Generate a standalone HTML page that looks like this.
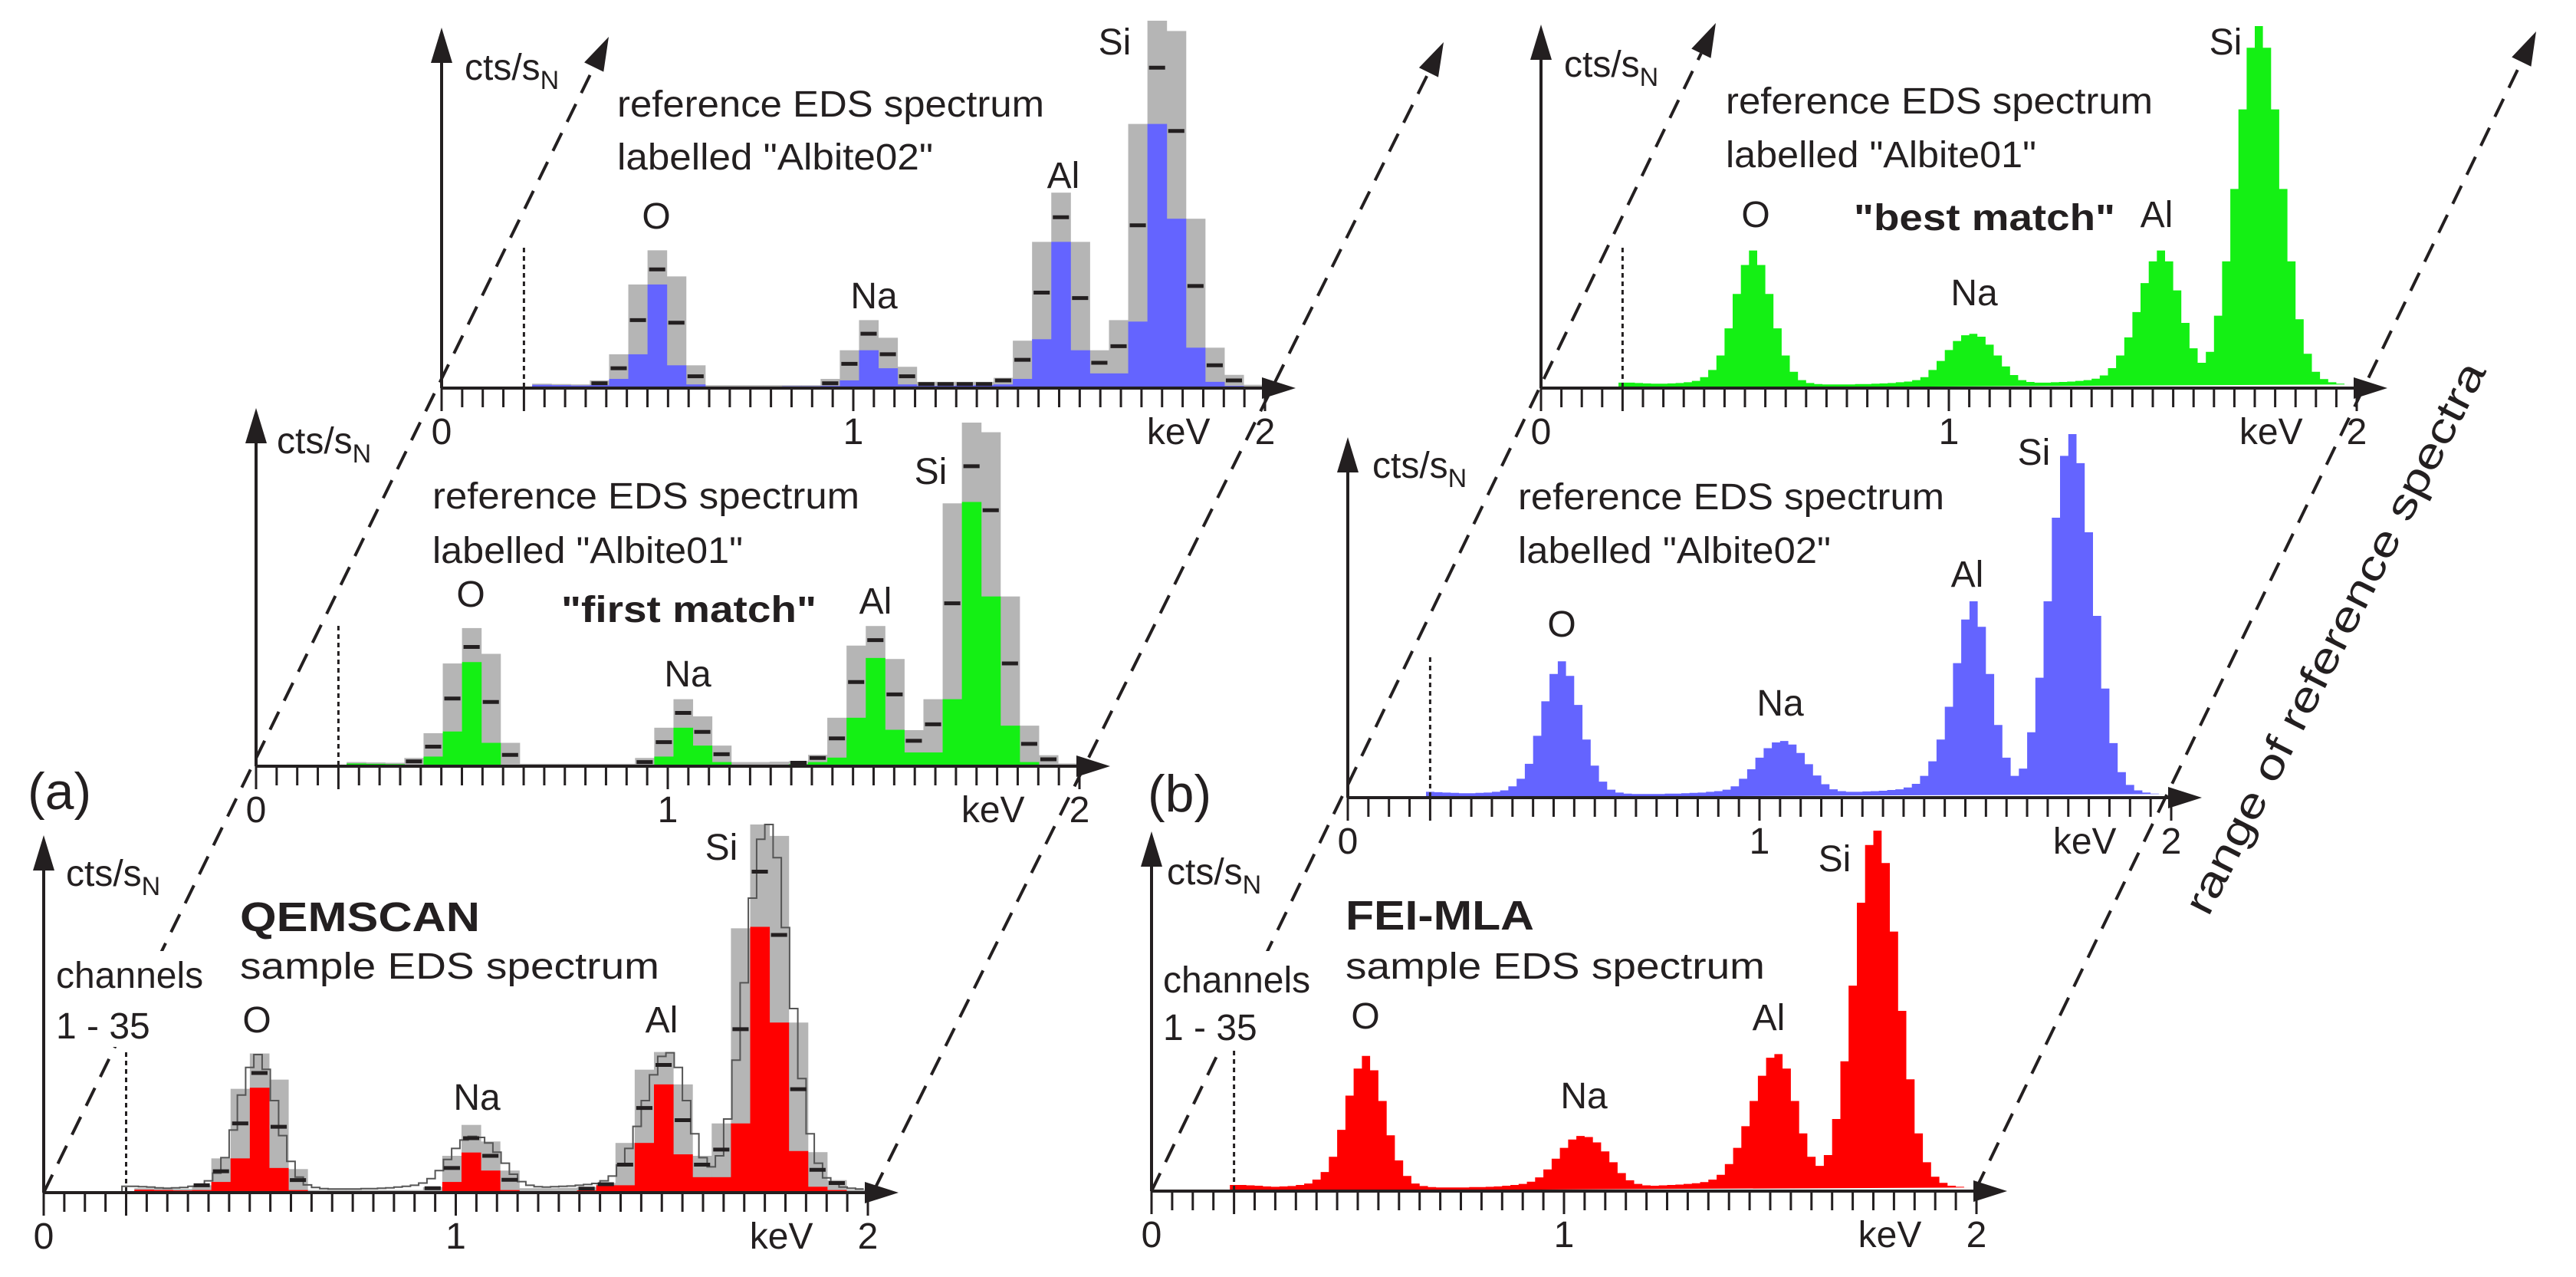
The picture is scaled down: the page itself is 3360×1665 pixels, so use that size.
<!DOCTYPE html>
<html><head><meta charset="utf-8">
<style>
html,body{margin:0;padding:0;background:#fff;}
svg{display:block;}
text{font-family:"Liberation Sans",Arial,sans-serif;fill:#231f20;}
</style></head>
<body>
<svg id="fig" width="3360" height="1665" viewBox="0 0 3360 1665" xmlns="http://www.w3.org/2000/svg">
<rect x="0" y="0" width="3360" height="1665" fill="#fff"/>
<g id="dashes"></g>
<g id="plots"></g>
<g id="labels" font-size="48">
  <text x="36" y="1055" font-size="68">(a)</text>
  <text x="1497" y="1058" font-size="68">(b)</text>

  <text x="606" y="104">cts/s<tspan font-size="34" dy="12">N</tspan></text>
  <text x="805" y="152" textLength="557" lengthAdjust="spacingAndGlyphs">reference EDS spectrum</text>
  <text x="805" y="221" textLength="412" lengthAdjust="spacingAndGlyphs">labelled "Albite02"</text>
  <text x="856" y="298" text-anchor="middle">O</text>
  <text x="1140" y="402" text-anchor="middle">Na</text>
  <text x="1387" y="245" text-anchor="middle">Al</text>
  <text x="1454" y="71" text-anchor="middle">Si</text>

  <text x="361" y="591">cts/s<tspan font-size="34" dy="12">N</tspan></text>
  <text x="564" y="663" textLength="557" lengthAdjust="spacingAndGlyphs">reference EDS spectrum</text>
  <text x="564" y="734" textLength="405" lengthAdjust="spacingAndGlyphs">labelled "Albite01"</text>
  <text x="614" y="791" text-anchor="middle">O</text>
  <text x="732" y="811" font-weight="bold" textLength="333" lengthAdjust="spacingAndGlyphs">"first match"</text>
  <text x="897" y="895" text-anchor="middle">Na</text>
  <text x="1142" y="800" text-anchor="middle">Al</text>
  <text x="1214" y="631" text-anchor="middle">Si</text>

  <rect x="70" y="1240" width="200" height="125" fill="#fff"/>
  <text x="86" y="1155">cts/s<tspan font-size="34" dy="12">N</tspan></text>
  <text x="313" y="1214" font-size="54" font-weight="bold" textLength="313" lengthAdjust="spacingAndGlyphs">QEMSCAN</text>
  <text x="313" y="1276" textLength="547" lengthAdjust="spacingAndGlyphs">sample EDS spectrum</text>
  <text x="73" y="1288">channels</text>
  <text x="73" y="1354">1 - 35</text>
  <text x="335" y="1346" text-anchor="middle">O</text>
  <text x="622" y="1447" text-anchor="middle">Na</text>
  <text x="863" y="1346" text-anchor="middle">Al</text>
  <text x="941" y="1121" text-anchor="middle">Si</text>

  <text x="2040" y="100">cts/s<tspan font-size="34" dy="12">N</tspan></text>
  <text x="2251" y="148" textLength="557" lengthAdjust="spacingAndGlyphs">reference EDS spectrum</text>
  <text x="2251" y="218" textLength="405" lengthAdjust="spacingAndGlyphs">labelled "Albite01"</text>
  <text x="2290" y="296" text-anchor="middle">O</text>
  <text x="2418" y="300" font-weight="bold" textLength="341" lengthAdjust="spacingAndGlyphs">"best match"</text>
  <text x="2575" y="398" text-anchor="middle">Na</text>
  <text x="2813" y="296" text-anchor="middle">Al</text>
  <text x="2903" y="71" text-anchor="middle">Si</text>

  <text x="1790" y="623">cts/s<tspan font-size="34" dy="12">N</tspan></text>
  <text x="1980" y="664" textLength="556" lengthAdjust="spacingAndGlyphs">reference EDS spectrum</text>
  <text x="1980" y="734" textLength="408" lengthAdjust="spacingAndGlyphs">labelled "Albite02"</text>
  <text x="2037" y="830" text-anchor="middle">O</text>
  <text x="2322" y="933" text-anchor="middle">Na</text>
  <text x="2566" y="765" text-anchor="middle">Al</text>
  <text x="2653" y="606" text-anchor="middle">Si</text>

  <rect x="1514" y="1240" width="200" height="125" fill="#fff"/>
  <text x="1522" y="1153">cts/s<tspan font-size="34" dy="12">N</tspan></text>
  <text x="1755" y="1212" font-size="54" font-weight="bold" textLength="246" lengthAdjust="spacingAndGlyphs">FEI-MLA</text>
  <text x="1755" y="1276" textLength="547" lengthAdjust="spacingAndGlyphs">sample EDS spectrum</text>
  <text x="1517" y="1294">channels</text>
  <text x="1517" y="1356">1 - 35</text>
  <text x="1781" y="1341" text-anchor="middle">O</text>
  <text x="2066" y="1445" text-anchor="middle">Na</text>
  <text x="2307" y="1343" text-anchor="middle">Al</text>
  <text x="2393" y="1136" text-anchor="middle">Si</text>

  <text x="0" y="0" font-size="54" text-anchor="middle" textLength="800" lengthAdjust="spacingAndGlyphs" transform="translate(3062,840) rotate(-63)">range of reference spectra</text>
</g>
</svg>
<script>
// ---- data ----
const fineStart = 0.20;
const fineStep = 0.02;
const coarseStart = 0.22;
const coarseStep = 0.0467;
const tickLabels = ["0", "1", "2"];
const tickValues = [0, 1, 2];

// fine spectra (cts/s normalised, Si = 100), energies 0.20..1.98 keV
const albite01Fine = [1.5,1.5,1.4,1.3,1.2,1.2,1.3,1.4,1.6,2.0, 3.0,5,9,16.5,26,34,38,34,26,16.5, 9,4.5,2.2,1.4,1.1,1.0,1.0,1.0,1.0,1.1, 1.1,1.2,1.3,1.4,1.6,1.8,2.2,3.0,5,7.5, 10.5,13,14.6,15,14.2,12,9,6,3.6,2.2, 1.7,1.5,1.5,1.6,1.7,1.8,2.0,2.2,2.6,3.5, 5.5,9,14,21,29,35,38,35,27,18, 11,7,10,20,35,55,77,94,100,94, 77,55,35,19,9.5,4.5,2.5,1.6,1.2,1.0];
const albite02Fine = [1.6,1.5,1.4,1.3,1.2,1.2,1.3,1.4,1.6,2.0, 3.1,5.2,9.3,17,26.5,34,37.5,33.5,25.5,16, 8.8,4.4,2.2,1.4,1.1,1.0,1.0,1.0,1.0,1.1, 1.1,1.2,1.3,1.4,1.6,1.8,2.2,3.1,5.2,7.8, 11,13.6,15.2,15.6,14.6,12.3,9.2,6.1,3.7,2.3, 1.8,1.6,1.6,1.7,1.8,1.9,2.1,2.3,2.8,3.8, 6,10,16,25,37,49,54,47,34,20, 11,6,8,18,33,54,77,94,100,92, 73,50,30,15,7,3.5,2,1.4,1.1,1.0];
const sampleFine = [1.7,1.7,1.6,1.5,1.3,1.2,1.3,1.4,1.7,2.1, 3.2,5.3,9.5,17,26.5,34,37.5,33.5,25,15.5, 8.5,4.2,2.1,1.4,1.1,1.0,1.0,1.0,1.0,1.1, 1.1,1.2,1.3,1.5,1.7,2.0,2.6,3.8,6,9, 12,14.3,15.3,15,13.5,11,8,5,3,2, 1.6,1.5,1.6,1.7,1.8,2.0,2.2,2.5,3.2,4.5, 7.5,12,18,25,32,37,38,34,25,16, 9.5,7,10,20,36,57,80,96,100,91, 72,50,31,16,8,4,2.3,1.5,1.2,1.0];

// coarse (QEMSCAN) spectra: lower bound, mean marker, upper bound per channel
const albite02Lower = [0.9,0.8,0.7,0.8,2.5,9.2,28.2,6.2,1.0,0.4,0.4,0.4,0.4,0.5,0.5,0.6,2.1,10.3,5.4,1.0,0.6,0.6,0.7,0.8,1.0,2.5,13.3,39.8,10.3,4.0,4.0,18.1,71.9,46.1,11.0,1.7,0.6,0.3];
const albite02Mean  = [1.0,0.9,0.8,1.3,5.4,18.5,32.3,17.8,3.2,0.6,0.6,0.6,0.6,0.6,0.6,1.3,6.6,14.8,9.2,3.2,1.1,1.1,1.1,1.1,2.1,7.7,26,46.5,24.5,6.9,11.4,44.3,87.2,70,27.8,6.2,2.1,0.6];
const albite02Upper = [1.2,1.1,1.0,2.1,9.2,28.2,37.5,30.4,6.2,0.8,0.8,0.8,0.8,0.8,0.8,2.5,10.3,18.5,13.7,5.8,1.7,1.7,1.7,1.7,2.8,12.9,39.8,53.2,39.8,10.3,18.5,71.9,100,97.2,46.1,11.0,3.6,0.9];
const albite01Lower = [0.8,0.7,0.6,0.3,2.8,10.1,30.3,6.8,0.4,0.3,0.3,0.3,0.3,0.3,0.3,0,2.8,11.2,6.0,1.2,0.3,0.3,0.4,0.6,1.2,2.5,14.1,31.5,10.6,4.0,4.0,19.5,76.9,49.4,11.8,1.2,0.2,0.2];
const albite01Mean  = [1.0,0.9,0.8,1.4,5.7,19.7,34.7,18.7,3.3,0.5,0.5,0.5,0.5,0.5,0.5,1.2,7.0,15.5,10.0,3.5,0.8,0.8,0.9,1.0,2.4,8.1,24.5,36.7,20.9,7.4,12.2,47.4,87.3,74.5,29.9,6.5,2.0,0.5];
const albite01Upper = [1.2,1.1,1.0,2.4,9.6,29.9,40.2,32.7,6.8,0.7,0.7,0.7,0.7,0.7,0.7,2.4,11.2,19.5,14.5,6.0,1.2,1.2,1.3,1.5,3.3,14.1,35.1,40.8,31.2,10.5,19.5,76.5,100,97.2,49.4,11.8,3.2,0.8];
const sampleLower = [0.8,0.7,0.6,0.7,2.9,9.3,28.5,6.7,0.7,0.3,0.3,0.3,0.3,0.3,0.3,0.3,2.9,10.9,6.0,0.7,0.3,0.3,0.4,0.6,2.0,2.0,13.5,29.4,10.4,4.2,4.2,18.8,72.2,46.2,11.3,1.6,0.7,0.3];
const sampleMean  = [1.0,0.9,0.8,2.0,5.8,18.8,32.5,17.9,3.4,0.5,0.5,0.5,0.5,0.5,0.5,1.2,6.7,14.8,10.0,3.5,0.8,0.8,0.9,1.1,2.3,7.6,23,34.7,19.7,7.6,11.7,44.4,87.2,70,28.1,6.2,2.6,0.5];
const sampleUpper = [1.2,1.1,1.0,2.0,9.3,28.2,37.8,30.7,6.4,0.7,0.7,0.7,0.7,0.7,0.7,1.5,10.0,18.4,13.9,6.0,1.2,1.2,1.3,1.5,2.6,13.5,33.4,38.2,29.4,10.0,18.8,71.8,100,96.9,46.2,11.0,3.4,0.8];

// ---- rendering ----
const NS = "http://www.w3.org/2000/svg";
const INK = "#231f20";
const plots = document.getElementById("plots");
const dashes = document.getElementById("dashes");

function mk(parent, tag, attrs) {
  const el = document.createElementNS(NS, tag);
  for (const k in attrs) el.setAttribute(k, attrs[k]);
  parent.appendChild(el);
  return el;
}

const panels = [
  {id:"a-top", ox:576, oy:506, kx:537, ys:4.79, top:36, color:"#6464ff", coarse:[albite02Lower, albite02Mean, albite02Upper]},
  {id:"a-mid", ox:334, oy:999, kx:537, ys:4.48, top:532, color:"#14f014", coarse:[albite01Lower, albite01Mean, albite01Upper]},
  {id:"a-bot", ox:57, oy:1555, kx:537.5, ys:4.80, top:1089, color:"#ff0000", coarse:[sampleLower, sampleMean, sampleUpper], line:sampleFine},
  {id:"b-top", ox:2010, oy:506, kx:532, ys:4.72, top:32, color:"#14f014", fine:albite01Fine},
  {id:"b-mid", ox:1758, oy:1040, kx:537, ys:4.74, top:570, color:"#6464ff", fine:albite02Fine},
  {id:"b-bot", ox:1502, oy:1553, kx:538, ys:4.70, top:1084, color:"#ff0000", fine:sampleFine}
];

function stepPath(p, vals) {
  const X = e => p.ox + e * p.kx;
  const Y = v => p.oy - v * p.ys;
  let d = "M" + X(fineStart - fineStep/2) + "," + p.oy;
  vals.forEach((v, i) => {
    const x0 = X(fineStart + fineStep*i - fineStep/2);
    const x1 = X(fineStart + fineStep*i + fineStep/2);
    d += " L" + x0.toFixed(1) + "," + Y(v).toFixed(1) + " L" + x1.toFixed(1) + "," + Y(v).toFixed(1);
  });
  return d;
}

panels.forEach(p => {
  const X = e => p.ox + e * p.kx;
  const Y = v => p.oy - v * p.ys;
  const g = mk(plots, "g", {});
  
  

  if (p.coarse) {
    const [lo, mean, up] = p.coarse;
    up.forEach((v, k) => {
      const x0 = X(coarseStart + coarseStep*k);
      const r = mk(g, "rect", {x:x0, y:Y(v), width:coarseStep*p.kx + 0.5, height:v*p.ys, fill:"#b5b5b5"});
      
      
    });
    lo.forEach((v, k) => {
      const x0 = X(coarseStart + coarseStep*k);
      const r = mk(g, "rect", {x:x0, y:Y(v), width:coarseStep*p.kx + 0.5, height:v*p.ys, fill:p.color});
      
      
    });
    if (p.line) {
      const ln = mk(g, "path", {d:stepPath(p, p.line), fill:"none", stroke:"#555", "stroke-width":2});
      
      
    }
    mean.forEach((v, k) => {
      if (up[k] < 1.5) return;
      const x0 = X(coarseStart + coarseStep*k);
      const m = mk(g, "line", {x1:x0 + 2, x2:x0 + coarseStep*p.kx - 2, y1:Y(v), y2:Y(v), stroke:INK, "stroke-width":5});
      
      
    });
  } else {
    const path = mk(g, "path", {d:stepPath(p, p.fine) + " Z", fill:p.color, stroke:"none"});
    
    
  }

  const dot = mk(g, "line", {x1:X(0.2), x2:X(0.2), y1:p.oy - 183, y2:p.oy, stroke:INK, "stroke-width":3, "stroke-dasharray":"6 5"});
  
  

  const tip = X(2) + 40;
  const xa = mk(g, "line", {x1:p.ox, x2:tip - 30, y1:p.oy, y2:p.oy, stroke:INK, "stroke-width":4});
  
  
  const xh = mk(g, "polygon", {points:`${tip},${p.oy} ${tip-44},${p.oy-14} ${tip-44},${p.oy+14}`, fill:INK});
  
  
  for (let i = 0; i <= 40; i++) {
    const e = i * 0.05;
    const long = (i % 20 === 0) || i === 4;
    const t = mk(g, "line", {x1:X(e), x2:X(e), y1:p.oy, y2:p.oy + (long ? 30 : 25), stroke:INK, "stroke-width":3});
    
    
  }
  tickValues.forEach((v, i) => {
    const tl = mk(g, "text", {x:X(v), y:p.oy + 73, "text-anchor":"middle", "font-size":48});
    tl.textContent = tickLabels[i];
    
    
  });
  const kev = mk(g, "text", {x:X(1.79), y:p.oy + 73, "text-anchor":"middle", "font-size":48});
  kev.textContent = "keV";
  
  

  const ya = mk(g, "line", {x1:p.ox, x2:p.ox, y1:p.oy, y2:p.top + 30, stroke:INK, "stroke-width":4});
  
  
  const yh = mk(g, "polygon", {points:`${p.ox},${p.top} ${p.ox-14},${p.top+46} ${p.ox+14},${p.top+46}`, fill:INK});
  
  
});

const dlines = [
  {name:"a-left-dashed", x1:57, y1:1555, x2:794, y2:48},
  {name:"a-right-dashed", x1:1140, y1:1552, x2:1883, y2:55},
  {name:"b-left-dashed", x1:1502, y1:1553, x2:2238, y2:30},
  {name:"b-right-dashed", x1:2577, y1:1551, x2:3308, y2:41}
];
dlines.forEach(L => {
  const dx = L.x2 - L.x1, dy = L.y2 - L.y1, len = Math.hypot(dx, dy);
  const ux = dx/len, uy = dy/len;
  const bx = L.x2 - ux*44, by = L.y2 - uy*44;
  const ln = mk(dashes, "line", {x1:L.x1, y1:L.y1, x2:bx, y2:by, stroke:INK, "stroke-width":4, "stroke-dasharray":"26 16"});
  
  
  const px = -uy, py = ux;
  const ah = mk(dashes, "polygon", {points:`${L.x2},${L.y2} ${bx+px*14},${by+py*14} ${bx-px*14},${by-py*14}`, fill:INK});
  
  
});
</script>
</body></html>
